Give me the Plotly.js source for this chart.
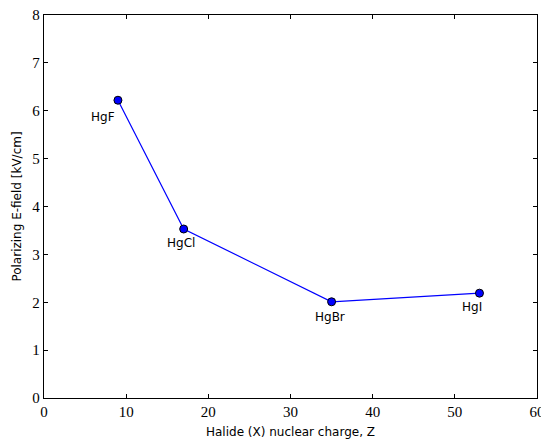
<!DOCTYPE html>
<html>
<head>
<meta charset="utf-8">
<script src="https://cdn.plot.ly/plotly-3.0.1.min.js"></script>
<style>html,body{margin:0;padding:0;background:#fff;}#chart{width:541px;height:440px;}</style>
</head>
<body>
<div id="chart"></div>
<script>
const labels = ["HgF", "HgCl", "HgBr", "HgI"];
const nuclearCharge = [9, 17, 35, 53];
const efield = [6.22, 3.53, 2.01, 2.19];
const xTicks = [0, 10, 20, 30, 40, 50, 60];
const yTicks = [0, 1, 2, 3, 4, 5, 6, 7, 8];
const labelShiftX = [-15, -3, -2, -7];
const labelShiftY = [-17, -14, -15, -14];

const trace = {
  x: nuclearCharge, y: efield, mode: "lines+markers", type: "scatter",
  line: {color: "#0000ff", width: 1.2},
  marker: {color: "#0000ff", size: 8, line: {color: "#000", width: 1}},
  hoverinfo: "skip", showlegend: false
};

const annotations = labels.map((t, i) => ({
  x: nuclearCharge[i], y: efield[i], xref: "x", yref: "y", text: t,
  showarrow: false, xshift: labelShiftX[i], yshift: labelShiftY[i],
  font: {family: "DejaVu Sans", size: 12, color: "#000"}
}));

const axisCommon = {
  showgrid: false, zeroline: false, showline: true, linecolor: "#000", linewidth: 1.2,
  mirror: "ticks", ticks: "inside", ticklen: 4, tickwidth: 1, tickcolor: "#000",
  ticklabeloverflow: "allow",
  tickfont: {family: "Liberation Serif", size: 15, color: "#000"}
};

const layout = {
  width: 541, height: 440,
  margin: {l: 44, r: 4, t: 15, b: 42},
  paper_bgcolor: "#fff", plot_bgcolor: "#fff",
  xaxis: Object.assign({}, axisCommon, {range: [0, 60], tickvals: xTicks, ticktext: xTicks.map(String),
    title: {text: "Halide (X) nuclear charge, Z", font: {family: "DejaVu Sans", size: 12, color: "#000"}, standoff: 8}}),
  yaxis: Object.assign({}, axisCommon, {range: [0, 8], tickvals: yTicks, ticktext: yTicks.map(String),
    title: {text: "Polarizing E-field [kV/cm]", font: {family: "DejaVu Sans", size: 12, color: "#000"}, standoff: 8}}),
  annotations: annotations
};

Plotly.newPlot("chart", [trace], layout, {displayModeBar: false, staticPlot: true});
</script>
</body>
</html>
